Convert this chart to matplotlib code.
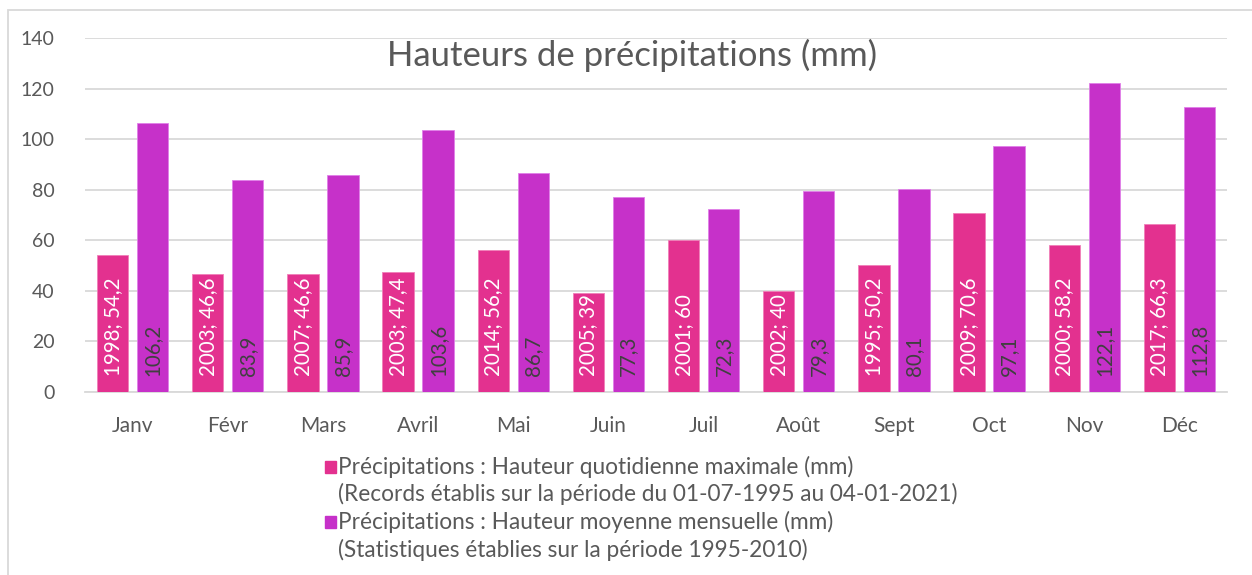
import numpy as np
import matplotlib
matplotlib.use("Agg")
import matplotlib.pyplot as plt
from matplotlib.patches import Rectangle

plt.rcParams['font.family'] = ['Lato', 'DejaVu Sans']

mois = ['Janv', 'Févr', 'Mars', 'Avril', 'Mai', 'Juin', 'Juil', 'Août',
        'Sept', 'Oct', 'Nov', 'Déc']
annees_record = [1998, 2003, 2007, 2003, 2014, 2005, 2001, 2002, 1995, 2009, 2000, 2017]
haut_max = [54.2, 46.6, 46.6, 47.4, 56.2, 39, 60, 40, 50.2, 70.6, 58.2, 66.3]
haut_moy = [106.2, 83.9, 85.9, 103.6, 86.7, 77.3, 72.3, 79.3, 80.1, 97.1, 122.1, 112.8]

rose = '#E3318F'
violet = '#C631C9'
gris = '#595959'

def fr(v):
    s = ('%g' % v).replace('.', ',')
    return s

W, H = 1252, 575
fig = plt.figure(figsize=(W / 100, H / 100), dpi=100)
ax = fig.add_axes([85 / W, 1 - 392 / H, (1227 - 85) / W, (392 - 38) / H])

x = np.arange(len(mois))
w = 0.33
b1 = ax.bar(x - 0.21, haut_max, w, color=rose, edgecolor='#F080B8', linewidth=0.6, zorder=3)
b2 = ax.bar(x + 0.21, haut_moy, w, color=violet, edgecolor='#E080E8', linewidth=0.6, zorder=3)

for i in range(len(mois)):
    ax.text(x[i] - 0.21, 6.3, '%d; %s' % (annees_record[i], fr(haut_max[i])),
            rotation=90, ha='center', va='bottom', color='white', fontsize=14.8, zorder=4)
    ax.text(x[i] + 0.21, 6.3, fr(haut_moy[i]),
            rotation=90, ha='center', va='bottom', color='#404040', fontsize=14.8, zorder=4)

ax.set_xlim(-0.5, len(mois) - 0.5)
ax.set_ylim(0, 140)
ax.set_yticks(np.arange(0, 141, 20))
ax.yaxis.grid(True, color='#D9D9D9', linewidth=1.3, zorder=0)
ax.set_axisbelow(True)
for s in ['top', 'right', 'left']:
    ax.spines[s].set_visible(False)
ax.spines['bottom'].set_color('#D9D9D9')
ax.spines['bottom'].set_linewidth(1.3)
ax.set_xticks(x)
ax.set_xticklabels(mois)
ax.tick_params(axis='both', length=0, labelsize=14, colors=gris)
ax.tick_params(axis='x', pad=17, labelsize=15)
ax.tick_params(axis='y', pad=22)

fig.text(632 / W, 1 - 55 / H, 'Hauteurs de précipitations (mm)', ha='center', va='center',
         fontsize=25, color=gris)

# cadre du graphique
fig.add_artist(Rectangle((8 / W, -0.1), 1.2, 1 - 10 / H + 0.1, transform=fig.transFigure,
                         fill=False, edgecolor='#D9D9D9', linewidth=1.3))

# légende
lignes = [(467, rose, 'Précipitations : Hauteur quotidienne maximale (mm)'),
          (494, None, '(Records établis sur la période du 01-07-1995 au 04-01-2021)'),
          (522, violet, 'Précipitations : Hauteur moyenne mensuelle (mm)'),
          (550, None, '(Statistiques établies sur la période 1995-2010)')]
for yy, c, t in lignes:
    if c is not None:
        fig.add_artist(Rectangle((325 / W, 1 - (yy + 6) / H), 11 / W, 12 / H,
                                 transform=fig.transFigure, color=c))
    fig.text(338 / W, 1 - yy / H, t, ha='left', va='center', fontsize=16.3, color=gris)

fig.savefig('out.png', dpi=100)
